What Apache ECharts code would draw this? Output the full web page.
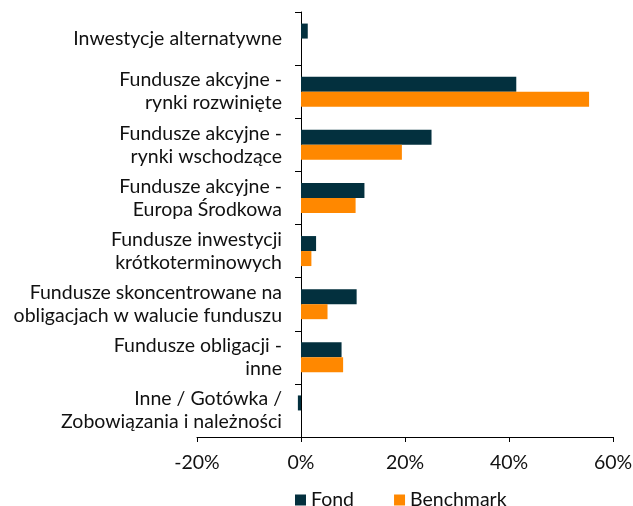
<!DOCTYPE html>
<html>
<head>
<meta charset="utf-8">
<script src="https://cdn.jsdelivr.net/npm/echarts@6/dist/echarts.min.js"></script>
<style>
  html, body { margin: 0; padding: 0; background: #fff; }
  #plot { width: 633px; height: 506px; }
</style>
</head>
<body>
<div id="plot"></div>
<script>
// kategorie (od gory)
const categories = [
    'Inwestycje alternatywne',
    'Fundusze akcyjne -\nrynki rozwinięte',
    'Fundusze akcyjne -\nrynki wschodzące',
    'Fundusze akcyjne -\nEuropa Środkowa',
    'Fundusze inwestycji\nkrótkoterminowych',
    'Fundusze skoncentrowane na\nobligacjach w walucie funduszu',
    'Fundusze obligacji -\ninne',
    'Inne / Gotówka /\nZobowiązania i należności'
];
const fond = [1.3, 41.4, 25.1, 12.2, 2.9, 10.7, 7.8, -0.6];
const benchmark = [0, 55.4, 19.4, 10.5, 2.0, 5.1, 8.1, 0];
const xTicks = [-20, 60, 20]; // min, max, interval

const myChart = echarts.init(document.getElementById('plot'));
const font = 'Lato, "Open Sans", sans-serif';
const fs = 19.5;

const option = {
    animation: false,
    textStyle: { fontFamily: font },
    grid: { left: 197, right: 20, top: 12, bottom: 69, containLabel: false, outerBoundsMode: 'none' },
    legend: {
        top: 485,
        left: 290,
        itemWidth: 11,
        itemHeight: 11,
        itemGap: 40,
        icon: 'rect',
        textStyle: { fontSize: fs, color: '#111', fontFamily: font },
        data: ['Fond', 'Benchmark']
    },
    xAxis: {
        type: 'value',
        min: xTicks[0],
        max: xTicks[1],
        interval: xTicks[2],
        splitLine: { show: false },
        axisLine: { show: true, lineStyle: { color: '#000', width: 1 } },
        axisTick: { show: true, length: 5, lineStyle: { color: '#000' } },
        axisLabel: { formatter: '{value}%', fontSize: fs, color: '#111', margin: 16, fontFamily: font }
    },
    yAxis: {
        type: 'category',
        data: categories,
        inverse: true,
        axisLine: { show: true, onZero: true, lineStyle: { color: '#000', width: 1 } },
        axisTick: { show: true, length: 6, lineStyle: { color: '#000' } },
        // etykiety przy osi zero, nie przy lewej krawedzi siatki
        axisLabel: { fontSize: fs, color: '#111', margin: -85, lineHeight: 23, align: 'right', fontFamily: font }
    },
    series: [
        {
            name: 'Fond',
            type: 'bar',
            data: fond,
            barWidth: 15,
            barGap: '0%',
            itemStyle: { color: '#03303e' }
        },
        {
            name: 'Benchmark',
            type: 'bar',
            data: benchmark,
            barWidth: 15,
            itemStyle: { color: '#ff8800' }
        }
    ]
};

myChart.setOption(option);
</script>
</body>
</html>
